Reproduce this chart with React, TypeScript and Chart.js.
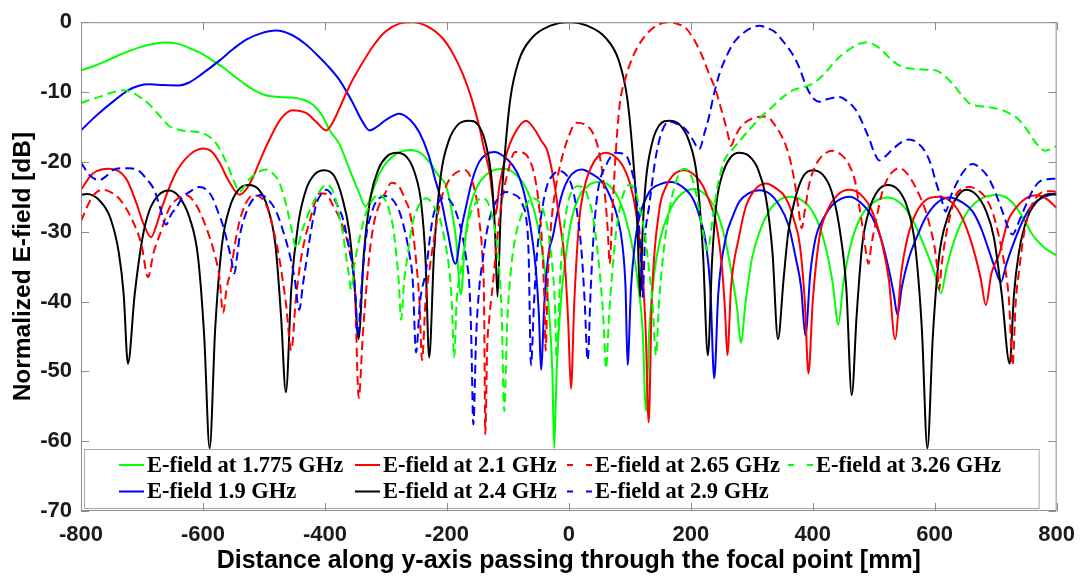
import React, { useEffect, useRef } from "react";
import { Chart, registerables } from "chart.js";

Chart.register(...registerables);

type Pt = [number, number];

const xTickValues = [-800, -600, -400, -200, 0, 200, 400, 600, 800];
const yTickValues = [0, -10, -20, -30, -40, -50, -60, -70];

const seriesLabels = [
  "E-field at 1.775 GHz",
  "E-field 1.9 GHz",
  "E-field at 2.1 GHz",
  "E-field at 2.4 GHz",
  "E-field at 2.65 GHz",
  "E-field at 2.9 GHz",
  "E-field at 3.26 GHz",
];

// E-field at 1.775 GHz (green solid)
const green1775: Pt[] = [
  [-800, -6.9], [-780, -6.3], [-760, -5.6], [-740, -4.8], [-720, -4.1], [-700, -3.5], [-680, -3.1], [-663, -2.9],
  [-640, -3.1], [-620, -3.8], [-600, -4.6], [-584, -5.5], [-565, -6.6], [-545, -8], [-529, -9], [-510, -10],
  [-496, -10.5], [-475, -10.7], [-453, -10.8], [-435, -11.1], [-420, -11.8], [-405, -13.3], [-392, -15.5],
  [-376, -17.5], [-360, -21], [-345, -24.2], [-333, -26.4], [-322, -24.2], [-310, -21.6], [-298, -20],
  [-280, -18.7], [-260, -18.3], [-242, -18.8], [-229, -20], [-215, -21.8], [-201, -23.5], [-192, -27],
  [-185, -31], [-177, -39], [-170, -31], [-162, -26.5], [-150, -23.5], [-135, -21.8], [-120, -21.1],
  [-105, -21], [-90, -21.6], [-75, -23], [-62, -25.5], [-50, -29.5], [-40, -35], [-32, -42], [-27, -50],
  [-24, -61], [-20, -50], [-14, -41], [-5, -33.5], [5, -28], [18, -24.8], [35, -23.2], [50, -22.9],
  [65, -23.3], [80, -25], [93, -28], [105, -32.5], [115, -38.5], [121, -44], [126.5, -55.7], [132, -44],
  [140, -36], [150, -31], [163, -27.5], [180, -25], [205, -23.9], [225, -24.8], [242, -27], [256, -31],
  [268, -36.5], [276, -41], [282, -45.9], [290, -40], [300, -34], [315, -29.5], [330, -26.8], [345, -25.5],
  [361, -25], [378, -25.3], [395, -26.5], [410, -29], [422, -32.5], [433, -37.5], [442, -43.3], [450, -37.5],
  [462, -32], [478, -28], [500, -25.8], [523, -25.1], [545, -26], [565, -28.5], [585, -32.5], [600, -36],
  [610, -38.8], [620, -35], [635, -30.5], [655, -27], [678, -25.2], [703, -24.75], [725, -25.6], [745, -28],
  [760, -30.4], [780, -32.3], [800, -33.4],
];

// E-field 1.9 GHz (blue solid)
const blue19: Pt[] = [
  [-800, -15.5], [-785, -14.2], [-770, -13], [-745, -11.2], [-723, -9.75], [-705, -9.1], [-688, -8.9],
  [-665, -9], [-639, -9.05], [-622, -8.6], [-600, -7.3], [-573, -5.5], [-550, -3.8], [-529, -2.5],
  [-505, -1.6], [-480, -1.2], [-455, -1.8], [-431, -3.2], [-415, -4.5], [-398, -6], [-376, -8.3],
  [-354, -11.6], [-340, -14], [-327, -15.5], [-315, -15], [-300, -14], [-278, -13.1], [-260, -14],
  [-245, -15.8], [-230, -19], [-218, -22.9], [-208, -26], [-199, -29.9], [-186, -34.6], [-176, -29.5],
  [-168, -26.2], [-158, -22.5], [-147, -20], [-135, -18.9], [-122, -18.6], [-107, -19.2], [-92, -20.5],
  [-80, -22.5], [-70, -25.7], [-60, -31], [-54, -35.5], [-49, -42], [-45.6, -49.8], [-40, -40],
  [-33, -33], [-26.5, -30.8], [-18, -27], [-10, -24.3], [0, -22.3], [12, -21.3], [22, -21.1], [35, -21.6],
  [55, -22.9], [68, -25], [80, -28], [88, -32], [93, -38], [96.4, -49.1], [102, -38], [108, -32],
  [115.5, -28], [132, -24.3], [150, -23.2], [167, -22.9], [185, -23.5], [203, -25.2], [215, -28],
  [225, -31.8], [232, -38], [238.5, -51], [245, -39], [257.6, -30.8], [268, -28], [279.5, -25.7],
  [295, -24.5], [312, -24.05], [330, -24.6], [345, -26.2], [360, -29], [372, -33.7], [381, -38],
  [388, -44.9], [396, -36], [405, -30.8], [418, -28], [432, -26.2], [446, -25.3], [460, -25], [478, -25.8],
  [498, -28], [512, -31], [525, -35.5], [533, -39], [539, -41.9], [546, -38], [558, -33.7], [572, -30.5],
  [585, -28], [605, -25.8], [624, -25.1], [645, -25.8], [662, -27.1], [676, -29.5], [689, -32.7],
  [700, -35.5], [708.5, -37.2], [718, -34.5], [733, -30.8], [747, -28], [760, -26.2], [780, -25], [800, -24.5],
];

// E-field at 2.1 GHz (red solid)
const red21: Pt[] = [
  [-800, -24], [-781, -21.7], [-753, -21], [-726, -22.4], [-710, -25.7], [-697, -29], [-685, -30.8],
  [-676, -29], [-666, -26.2], [-644, -21.5], [-622, -19], [-600, -18.1], [-585, -18.6], [-573, -20.1],
  [-556, -23], [-540, -24.7], [-528, -23.8], [-518, -22.2], [-505, -19.5], [-491, -16.8], [-472, -13.8],
  [-453, -12.6], [-431, -13], [-414, -14.3], [-398, -15.5], [-385, -14], [-376, -12.3], [-360, -9.2],
  [-343, -6.5], [-320, -3.3], [-300, -1.3], [-278, -0.2], [-256, 0], [-232, -0.6], [-207, -2.3],
  [-190, -4.5], [-174, -7.4], [-160, -10.8], [-147, -14.9], [-138, -18.5], [-130, -21.5], [-125, -25],
  [-120, -27.5], [-114, -23.5], [-103, -19.1], [-88, -15.8], [-70, -14.1], [-55, -15.5], [-45, -17],
  [-35, -18.5], [-24, -23], [-15, -28.5], [-7, -34], [-1, -43], [3.5, -52.5], [9, -40], [17, -28.5],
  [26, -23.5], [34, -21.3], [47, -19.3], [61, -18.7], [75, -19.2], [88, -20.5], [100, -23], [110, -27.1],
  [120, -35], [126, -44], [131, -57.3], [136, -40], [148, -27.1], [158, -23.8], [170, -22], [189, -21.2],
  [205, -21.8], [219, -23.3], [232, -26], [241, -28.5], [251, -35], [256, -41], [260, -47.7], [266, -38],
  [279, -30.8], [290, -26.5], [305, -24], [323, -23.1], [340, -23.8], [356, -25.2], [370, -28.5],
  [379, -32], [387, -40], [393, -50.3], [400, -40], [411, -30.8], [424, -27], [440, -24.8], [460, -24],
  [480, -24.8], [497, -27], [514, -31.8], [525, -37], [535, -45.4], [545, -36], [553, -31.8], [566, -28],
  [585, -25.5], [607, -25], [628, -25.8], [645, -28], [660, -31.5], [675, -36.5], [684, -40.5], [693, -36],
  [706, -33.2], [720, -28.5], [733, -26.6], [750, -25.2], [766, -24.8], [785, -25.4], [800, -26.6],
];

// E-field at 2.4 GHz (black solid)
const black24: Pt[] = [
  [-800, -24.7], [-790, -24.6], [-770, -25.5], [-752, -28], [-738, -33], [-730, -39], [-723, -48.9],
  [-712, -39], [-699, -30.8], [-688, -27], [-672, -24.7], [-656, -24.1], [-639, -25], [-622, -28],
  [-608, -33.7], [-598, -44.9], [-589, -61], [-580, -44], [-569, -32], [-556, -26.5], [-542, -24],
  [-525, -23.3], [-508, -24], [-494, -26.5], [-481, -32], [-472, -42], [-464, -53], [-455, -38],
  [-444, -29], [-431, -24], [-417, -21.8], [-401, -21.2], [-385, -22], [-372, -25], [-360, -30],
  [-352, -37], [-345, -45.4], [-336, -33], [-325, -25], [-312, -21], [-298, -19.2], [-282, -18.7],
  [-266, -19.3], [-253, -21.5], [-242, -26], [-235, -34], [-229, -48], [-221, -33], [-210, -22],
  [-197, -17], [-181, -14.6], [-164, -14.1], [-148, -14.8], [-136, -17.5], [-126, -23], [-121, -30],
  [-117, -39.3], [-112, -28], [-105, -19], [-96, -11], [-82, -5.5], [-60, -2.2], [-30, -0.5], [0, 0],
  [30, -0.5], [60, -2.2], [82, -5.5], [96, -11], [105, -19], [112, -28], [117, -39.3], [121, -30],
  [126, -23], [136, -17.5], [148, -14.8], [165, -14.1], [181, -14.6], [197, -17], [210, -22], [220, -33],
  [228, -47.7], [235, -34], [242, -26], [253, -21.5], [266, -19.3], [279, -18.7], [296, -19.2], [310, -21],
  [323, -25], [334, -33], [343, -45.4], [352, -37], [360, -30], [372, -25], [385, -22], [400, -21.2],
  [416, -21.8], [430, -24], [443, -29], [455, -38], [464, -53.4], [472, -42], [481, -32], [494, -26.5],
  [508, -24], [523, -23.3], [540, -24], [555, -26.5], [568, -32], [579, -44], [588, -61], [597, -44.9],
  [607, -33.7], [621, -28], [637, -25], [651, -24], [668, -24.7], [684, -27], [697, -30.8], [710, -39],
  [723, -48.9], [730, -39], [738, -33], [752, -28], [772, -25.3], [790, -24.6], [800, -24.7],
];

// E-field at 2.65 GHz (red dashed)
const red265: Pt[] = [
  [-800, -28.5], [-786, -25.7], [-775, -24.4], [-764, -24], [-750, -24.4], [-735, -25.5], [-715, -28.5],
  [-701, -31.8], [-690, -36.5], [-681, -33], [-671, -30.5], [-655, -26.6], [-640, -25.2], [-627, -24.8],
  [-611, -26.2], [-600, -28.2], [-589, -30.8], [-580, -33.5], [-573, -36.5], [-567, -41.6], [-561, -38],
  [-554, -35.5], [-547, -31.5], [-540, -28.5], [-530, -26], [-518, -24.8], [-505, -25.1], [-496, -26.2],
  [-485, -29.5], [-475, -33.7], [-464, -40.2], [-455, -47], [-448, -40], [-442, -35.5], [-434, -31.5],
  [-425, -28.5], [-417, -26], [-409, -24.5], [-398, -24.6], [-387, -26.2], [-375, -28.3], [-365, -30.8],
  [-357, -34], [-351, -38], [-344.5, -53.8], [-338, -45], [-332, -38], [-326, -32.5], [-319, -28.5],
  [-310, -26], [-300, -24.3], [-291, -23], [-278, -23.6], [-268, -25.5], [-261, -27.1], [-255, -30.5],
  [-250, -34.6], [-245, -40], [-240.7, -48.4], [-235, -40], [-228.7, -35.5], [-221, -31], [-212, -26.2],
  [-200, -23.2], [-190, -21.9], [-179, -21.3], [-170, -21.2], [-158, -22.9], [-150, -26], [-146.7, -28.5],
  [-142, -33], [-139, -40], [-137, -59], [-134, -47], [-130, -42], [-125, -37.9], [-118, -31.5],
  [-111, -26.2], [-100, -21.5], [-88, -18.6], [-75, -18.7], [-63, -20], [-55, -22.5], [-48, -27],
  [-43, -33], [-40, -40], [-38, -47], [-35, -38], [-30, -30], [-22, -24], [-10, -19], [0, -16.3],
  [12, -14.4], [25, -14.6], [39, -15.8], [48, -18], [55, -21.5], [60, -25.5], [64, -30], [67, -34.6],
  [71, -28], [76, -20], [83, -12.1], [93, -8], [104.6, -5], [118, -2.8], [132, -1.3], [148, -0.3],
  [165, 0], [180, -0.3], [192, -0.85], [206, -2.6], [219.4, -5], [230, -7.4], [241, -9.75], [250, -12.5],
  [257.6, -14.9], [262, -16.5], [266, -17.7], [272, -16.5], [282, -15], [300, -13.8], [323, -13.5],
  [340, -15], [356, -17.7], [365, -20.5], [372, -23.8], [377, -27], [382, -29.5], [387, -27], [394, -23.3],
  [402, -21], [411, -19.6], [420, -18.8], [432, -18.4], [447, -19], [460, -20.5], [470, -23], [476, -26.2],
  [482, -29.5], [487, -32.7], [491.5, -34.6], [496, -32], [503.6, -28.5], [512, -25], [520, -22.9],
  [530, -21.5], [542, -20.9], [553, -21.5], [564, -22.9], [575, -24.8], [585.5, -27.1], [593, -29.5],
  [599, -31.8], [604, -35], [607.4, -38.3], [611, -35], [618, -30.8], [626, -27.5], [635, -24.75],
  [646, -23.8], [656.5, -23.6], [670, -24], [684, -25.2], [696, -27.5], [705.7, -30.8], [712, -33.5],
  [717, -36], [722, -40], [727.6, -49.1], [733, -40], [738.5, -35.5], [746, -30.5], [755, -27.1],
  [765, -25.3], [777, -24.3], [790, -24.2], [800, -24.3],
];

// E-field at 2.9 GHz (blue dashed)
const blue29: Pt[] = [
  [-800, -20.1], [-786, -21.9], [-770, -22.6], [-758, -22], [-748, -21.2], [-735, -20.9], [-720.5, -20.9],
  [-705, -21.3], [-693, -22.4], [-680, -24], [-671.5, -26.2], [-660.5, -29], [-652, -27.5], [-644, -26.6],
  [-633, -25], [-622, -24.3], [-606, -23.6], [-594, -24], [-584, -25.2], [-576, -27], [-567.5, -29],
  [-560, -31.5], [-554, -33.7], [-548.5, -36], [-544, -33.5], [-540, -30.8], [-532, -28], [-524, -26.2],
  [-515, -25.1], [-505, -24.75], [-492, -25.5], [-480, -27.1], [-470, -29.5], [-458, -33.2], [-450, -36.5],
  [-442, -41.2], [-436, -37.5], [-431, -34.6], [-423, -30], [-414.5, -26.2], [-406, -24.6], [-398, -24],
  [-388, -24.8], [-378, -26.5], [-371, -28], [-362, -31.5], [-354, -35.5], [-350, -39], [-346, -44.9],
  [-340, -38], [-332.5, -30.8], [-324, -27.5], [-316, -25.7], [-300, -24.9], [-290, -25.3], [-278, -27.1],
  [-270, -29.5], [-261.5, -33.2], [-256, -37], [-250.5, -47.3], [-244, -40], [-234, -35.5], [-228, -31],
  [-223, -28], [-215, -26], [-207, -25.2], [-198, -25.3], [-190, -26.2], [-182, -28], [-174, -30.8],
  [-168, -34], [-163, -37.9], [-160, -45], [-156.6, -57.6], [-152, -45], [-146.7, -37.9], [-141, -34],
  [-136, -30.8], [-128, -27.5], [-119.4, -25.7], [-110, -24.6], [-103, -24.3], [-92, -24.6], [-81, -25.2],
  [-75, -26.3], [-70, -28], [-66, -33], [-62, -49.1], [-57, -40], [-52, -33], [-45, -27.5], [-36, -23.5],
  [-25, -21.8], [-15, -21.3], [-5, -21.8], [5, -23.5], [14, -27.5], [21, -33], [26, -40], [30.9, -48.4],
  [36, -38], [41, -30], [48, -24], [61, -20.5], [77, -18.7], [93.7, -19.1], [103, -21.2], [110, -24.3],
  [115, -29], [118.3, -34], [121, -39.3], [125, -31], [132, -26.2], [138, -22], [143, -19.1], [152, -15.8],
  [165, -14.2], [180, -14.7], [192, -15.4], [203, -16.8], [214, -18.2], [222, -16], [230, -13.5],
  [238, -10.3], [247, -7.4], [258, -5], [268.5, -3.2], [280, -2], [290, -1.3], [300, -0.8], [312, -0.5],
  [325, -0.8], [339.5, -1.5], [352, -2.8], [367, -4.6], [378, -6.5], [389, -9.1], [400, -10.8],
  [411, -11.4], [425, -11], [443.5, -10.7], [458, -11.4], [471, -12.6], [482, -14.5], [493, -16.8],
  [501, -18.7], [509, -19.8], [518, -19.3], [531, -18.2], [545, -17.2], [558, -16.8], [572, -17.3],
  [585.5, -18.7], [595, -20.7], [602, -22.9], [610, -25], [618, -27.1], [626, -25], [634.7, -23.3],
  [648, -21.3], [662, -20.3], [676, -21], [689, -22.4], [700, -24.5], [711, -27.1], [720, -29.3],
  [727.6, -30.4], [737, -28.8], [749.5, -26.2], [760, -24.2], [771, -22.9], [785, -22.5], [800, -22.4],
];

// E-field at 3.26 GHz (green dashed)
const green326: Pt[] = [
  [-800, -11.6], [-785, -11.1], [-770, -10.7], [-750, -10.1], [-731, -9.75], [-715, -10.1], [-704, -10.7],
  [-690, -11.6], [-677, -12.8], [-665, -14], [-655, -14.9], [-640, -15.4], [-627, -15.6], [-606, -15.75],
  [-595, -16.1], [-584, -16.8], [-575, -17.8], [-567, -19.1], [-558, -20.8], [-551, -22.4], [-545, -23.6],
  [-540, -24.3], [-533, -23.6], [-525, -22.6], [-518, -22], [-508, -21.4], [-496.5, -21.1], [-486, -21.6],
  [-475, -22.9], [-467, -25], [-461, -27.1], [-455, -29.5], [-447, -32.3], [-436, -29.5], [-425, -27],
  [-413, -24.8], [-402, -23.5], [-396, -23.3], [-388, -24], [-382, -25.5], [-376, -28], [-370, -30.5],
  [-365, -33.7], [-361, -36], [-357, -38.3], [-352, -35], [-343, -30.8], [-335, -28], [-327, -26.2],
  [-318, -25], [-310, -24.75], [-302, -25.3], [-294, -27.1], [-288, -29.5], [-283, -33.2], [-279, -37],
  [-275, -42.6], [-270, -37], [-264, -33.2], [-258, -29.5], [-250.5, -27.1], [-242, -25.7], [-234, -25.2],
  [-225, -25.8], [-218, -26.9], [-212, -28], [-203, -31.5], [-196, -35.5], [-192, -40], [-188, -48],
  [-184, -40], [-177, -35.5], [-170, -31.3], [-163, -28], [-152, -25.8], [-141, -25.2], [-133, -25.8],
  [-125, -28], [-119, -31], [-114, -35.5], [-110, -42], [-106, -55.7], [-101, -43], [-95, -35.5],
  [-88, -31], [-81, -28.5], [-70, -26.2], [-60, -25.2], [-50, -25.6], [-40, -27.5], [-33, -30.5],
  [-27, -35], [-23, -40], [-20, -48], [-15, -38], [-10, -31], [-3, -26.5], [5, -24.2], [15, -23.5],
  [25, -23.8], [33, -25.5], [40, -28], [46, -32], [52, -37], [57, -43], [61, -49.6], [66, -42], [71, -36],
  [77, -30.5], [84, -26.5], [92, -24], [99, -23.3], [108, -24], [116, -26.5], [124, -30], [131, -35],
  [137, -40], [143, -47.7], [148, -40], [154, -34], [161, -29], [168, -25.5], [177, -22.5], [188, -21],
  [198, -21.5], [206, -23.5], [213, -26.5], [219, -29.5], [227.6, -32.7], [236, -28], [245, -23],
  [255, -19.8], [268.5, -18.2], [282, -16.8], [301, -14.9], [317, -13.4], [334, -12.1], [350, -10.8],
  [367, -9.75], [385, -9.3], [400, -8.8], [418, -7.5], [432.5, -6], [446, -4.8], [460, -3.9], [473, -3.2],
  [487, -2.9], [500, -3.2], [514.5, -4.1], [528, -5.3], [541.8, -6.2], [555, -6.6], [569, -6.7],
  [585, -6.8], [602, -6.9], [615, -7.6], [629, -8.8], [643, -10.3], [656.5, -11.6], [670, -12],
  [684, -12.1], [697, -12.3], [711, -12.6], [725, -13.2], [738.5, -14], [752, -15.5], [766, -17.3],
  [782, -18.4], [792, -18.1], [800, -17.7],
];

const seriesData: Pt[][] = [green1775, blue19, red21, black24, red265, blue29, green326];
const seriesColors = ["#00ff00", "#0000ff", "#ff0000", "#000000", "#ff0000", "#0000ff", "#00ff00"];
const seriesDashed = [false, false, false, false, true, true, true];
// legend cell (column, row) for each series, in the order above
const legendCells: [number, number][] = [[0, 0], [0, 1], [1, 0], [1, 1], [2, 0], [2, 1], [3, 0]];

const AXIS_FONT = '"Liberation Sans", Arial, Helvetica, sans-serif';
const LEGEND_FONT = '"Liberation Serif", "Times New Roman", serif';

const boxPlugin = {
  id: "matlabBox",
  afterDatasetsDraw(chart: any) {
    const { ctx, chartArea } = chart;
    const { left, right, bottom } = chartArea;
    // legend box
    const bx = left + 3;
    const by = bottom - 62;
    const bw = right - 18 - bx;
    const bh = 59;
    ctx.save();
    ctx.fillStyle = "#ffffff";
    ctx.fillRect(bx, by, bw, bh);
    ctx.strokeStyle = "#a6a6a6";
    ctx.lineWidth = 1;
    ctx.strokeRect(bx + 0.5, by + 0.5, bw, bh);
    const colX = [38, 274, 486, 707];
    const rowY = [bottom - 46, bottom - 19.5];
    ctx.font = `bold 22.5px ${LEGEND_FONT}`;
    ctx.textBaseline = "middle";
    ctx.textAlign = "left";
    chart.data.datasets.forEach((ds: any, i: number) => {
      const [c, r] = legendCells[i];
      const x0 = left + colX[c];
      const y = rowY[r];
      ctx.strokeStyle = ds.borderColor;
      ctx.lineWidth = 2;
      ctx.setLineDash([]);
      ctx.beginPath();
      if (seriesDashed[i]) {
        ctx.moveTo(x0, y);
        ctx.lineTo(x0 + 6, y);
        ctx.moveTo(x0 + 19, y);
        ctx.lineTo(x0 + 25, y);
      } else {
        ctx.moveTo(x0, y);
        ctx.lineTo(x0 + 25, y);
      }
      ctx.stroke();
      ctx.fillStyle = "#000000";
      ctx.fillText(ds.label, x0 + 28, y + 1);
    });
    ctx.restore();
  },
  afterDraw(chart: any) {
    const { ctx, chartArea, scales } = chart;
    const { left, right, top, bottom } = chartArea;
    ctx.save();
    ctx.strokeStyle = "#8c8c8c";
    ctx.lineWidth = 1;
    ctx.setLineDash([]);
    ctx.beginPath();
    ctx.rect(left + 0.5, top + 0.5, right - left - 1, bottom - top - 1);
    ctx.stroke();
    const tl = 8;
    ctx.beginPath();
    xTickValues.forEach((v) => {
      const x = Math.round(scales.x.getPixelForValue(v)) + 0.5;
      ctx.moveTo(x, bottom);
      ctx.lineTo(x, bottom - tl);
      ctx.moveTo(x, top);
      ctx.lineTo(x, top + tl);
    });
    yTickValues.forEach((v) => {
      const y = Math.round(scales.y.getPixelForValue(v)) + 0.5;
      ctx.moveTo(left, y);
      ctx.lineTo(left + tl, y);
      ctx.moveTo(right, y);
      ctx.lineTo(right - tl, y);
    });
    ctx.stroke();
    ctx.restore();
  },
};

export default function App() {
  const canvasRef = useRef<HTMLCanvasElement | null>(null);

  useEffect(() => {
    if (!canvasRef.current) return;
    const datasets = seriesData.map((pts, i) => ({
      label: seriesLabels[i],
      data: pts.map(([x, y]) => ({ x, y })),
      borderColor: seriesColors[i],
      backgroundColor: seriesColors[i],
      borderWidth: 2,
      borderDash: seriesDashed[i] ? [9, 5] : [],
      pointRadius: 0,
      fill: false,
      cubicInterpolationMode: "monotone" as const,
      order: [6, 5, 4, 3, 2, 1, 0][i],
    }));
    const chart = new Chart(canvasRef.current, {
      type: "line",
      data: { datasets },
      options: {
        animation: false,
        responsive: true,
        maintainAspectRatio: false,
        layout: { padding: { top: 14, right: 27, bottom: 0, left: 0 } },
        plugins: { legend: { display: false }, tooltip: { enabled: false } },
        scales: {
          x: {
            type: "linear",
            min: -800,
            max: 800,
            afterBuildTicks: (s: any) => {
              s.ticks = xTickValues.map((v) => ({ value: v }));
            },
            afterFit: (s: any) => {
              s.height = 69;
            },
            grid: { display: false, drawTicks: false },
            border: { display: false },
            ticks: {
              padding: 11,
              color: "#1a1a1a",
              font: { family: AXIS_FONT, size: 22, weight: "bold" },
              maxRotation: 0,
              autoSkip: false,
            },
            title: {
              display: true,
              text: "Distance along y-axis passing through the focal point [mm]",
              color: "#000000",
              font: { family: AXIS_FONT, size: 25, weight: "bold" },
              padding: { top: 0, bottom: 4 },
            },
          },
          y: {
            type: "linear",
            min: -70,
            max: 0,
            afterBuildTicks: (s: any) => {
              s.ticks = yTickValues.slice().reverse().map((v) => ({ value: v }));
            },
            afterFit: (s: any) => {
              s.width = 81;
            },
            grid: { display: false, drawTicks: false },
            border: { display: false },
            ticks: {
              padding: 9,
              color: "#1a1a1a",
              font: { family: AXIS_FONT, size: 22, weight: "bold" },
              autoSkip: false,
            },
            title: {
              display: true,
              text: "Normalized E-field [dB]",
              color: "#000000",
              font: { family: AXIS_FONT, size: 24.5, weight: "bold" },
              padding: { top: 9, bottom: 0 },
            },
          },
        },
      },
      plugins: [boxPlugin],
    });
    return () => chart.destroy();
  }, []);

  return (
    <div style={{ position: "absolute", left: 0, top: 0, width: 1086, height: 580, background: "#ffffff" }}>
      <canvas ref={canvasRef} />
    </div>
  );
}
